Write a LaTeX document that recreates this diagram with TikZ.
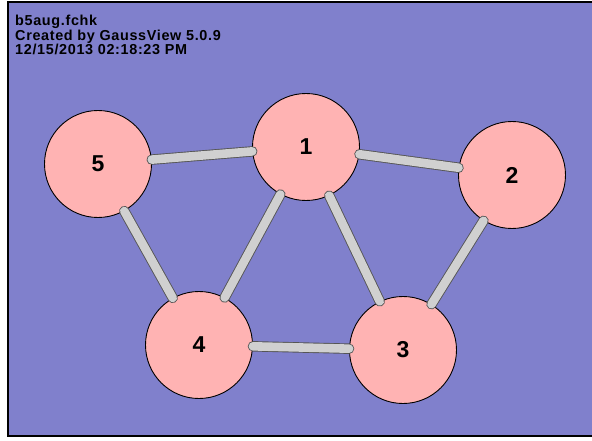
\documentclass[tikz,border=0pt]{standalone}
\usepackage{fontspec}
\setmainfont{Liberation Sans}
\definecolor{bgblue}{RGB}{128,128,204}
\definecolor{atompink}{RGB}{255,179,179}
\definecolor{rodgray}{RGB}{208,208,208}
\definecolor{rodedge}{RGB}{85,85,85}
\begin{document}
\begin{tikzpicture}[x=1pt,y=-1pt,
  atom/.style={circle, draw=black, line width=0.9pt, fill=atompink,
    minimum size=107pt, inner sep=0pt,
    font=\fontsize{23}{23}\selectfont\bfseries},
  rod/.style={draw=rodedge, line width=0.9pt, double=rodgray,
    double distance=8.6pt, line cap=round},
  header/.style={anchor=north west, align=left, inner sep=0pt,
    font=\fontsize{14.4}{14.5}\selectfont\bfseries\addfontfeatures{LetterSpace=4.6}}]
  \useasboundingbox (0,0) rectangle (592,441);
  \clip (0,0) rectangle (592,441);
  % frame
  \fill[bgblue] (8,2) rectangle (600,436);
  \draw[black, line width=2pt] (8,2) rectangle (600,436);
  % header text
  \node[header] (title) at (15,15) {b5aug.fchk\\Created by GaussView 5.0.9\\12/15/2013 02:18:23 PM};
  % atoms
  \node[atom] (n1) at (306,147) {1};
  \node[atom] (n2) at (512,175) {2};
  \node[atom] (n3) at (403,350) {3};
  \node[atom] (n4) at (199,345) {4};
  \node[atom] (n5) at (98,164) {5};
  % bonds
  \draw[rod] (n5) -- (n1);
  \draw[rod] (n1) -- (n2);
  \draw[rod] (n1) -- (n4);
  \draw[rod] (n1) -- (n3);
  \draw[rod] (n2) -- (n3);
  \draw[rod] (n5) -- (n4);
  \draw[rod] (n4) -- (n3);
\end{tikzpicture}
\end{document}
